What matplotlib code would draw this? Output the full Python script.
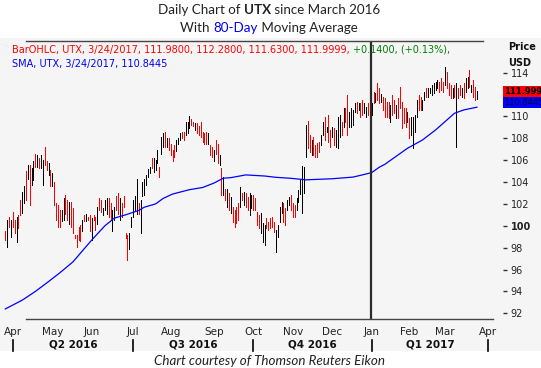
import numpy as np
import pandas as pd
import matplotlib
matplotlib.use("Agg")
import matplotlib.pyplot as plt
import matplotlib.transforms as mtransforms
from matplotlib.patches import Rectangle

W, H = 541, 368

# NYSE holidays inside the window
holidays = ["2016-05-30", "2016-07-04", "2016-09-05", "2016-11-24",
            "2016-12-26", "2017-01-02", "2017-01-16", "2017-02-20"]

# -------------------------
# daily bars (28 Mar 2016 .. 24 Mar 2017)
# -------------------------
high = [
    99.5, 100.5, 100.8, 100.5, 101.3, 100.5, 100.8, 101.0, 102.4, 103.1,
    103.6, 105.0, 105.6, 105.6, 105.3, 105.9, 106.6, 106.5, 106.2, 106.5,
    106.0, 107.2, 105.9, 105.7, 105.1, 104.8, 104.0, 102.1, 101.9, 101.4,
    101.4, 102.5, 102.8, 102.4, 102.2, 102.2, 101.6, 99.2, 99.2, 99.9,
    100.1, 100.5, 101.0, 101.1, 100.8, 101.0, 100.7, 101.0, 100.8, 101.7,
    102.5, 102.4, 101.6, 102.4, 102.5, 102.5, 102.1, 101.4, 101.7, 102.7,
    103.0, 102.5, 102.1, 102.7, 99.3, 99.2, 99.3, 100.8, 102.4, 102.7,
    104.3, 102.1, 102.4, 104.0, 104.3, 104.6, 105.2, 105.4, 106.2, 106.2,
    106.0, 106.9, 105.4, 108.15, 108.45, 108.6, 108.0, 108.0, 107.5, 106.9,
    107.4, 107.8, 108.0, 108.45, 108.6, 108.6, 109.5, 109.5, 110.0, 109.8,
    109.5, 109.4, 109.4, 109.1, 109.5, 108.6, 108.45, 108.6, 108.45, 107.4,
    107.2, 106.9, 107.8, 107.5, 106.5, 105.25, 104.5, 103.4, 103.4, 103.0,
    102.67, 101.75, 101.45, 101.75, 102.06, 103.58, 102.97, 103.12, 102.97, 102.67,
    102.97, 102.82, 102.82, 102.51, 101.29, 100.99, 101.14, 100.23, 100.07, 100.69,
    100.38, 100.69, 100.84, 100.38, 99.62, 100.07, 101.75, 102.21, 102.06, 101.6,
    102.36, 102.67, 102.82, 102.06, 101.9, 102.51, 103.27, 104.3, 105.5, 105.4,
    109.22, 109.58, 108.3, 107.84, 108.15, 107.39, 107.54, 107.69, 108.3, 109.52,
    109.98, 109.06, 110.13, 108.76, 109.06, 108.91, 108.76, 109.98, 110.13, 109.52,
    110.74, 110.74, 111.96, 110.43, 110.74, 110.59, 111.2, 111.35, 111.2, 111.2,
    111.5, 111.2, 110.89, 111.2, 110.59, 111.2, 112.26, 112.11, 113.02, 112.57,
    112.02, 111.81, 111.65, 111.35, 111.35, 111.04, 111.96, 111.5, 111.04, 111.65,
    112.72, 111.35, 110.74, 110.74, 110.43, 109.82, 109.98, 109.98, 110.13, 111.5,
    111.96, 111.81, 111.5, 112.26, 112.57, 112.57, 112.57, 112.87, 113.02, 113.18,
    113.33, 113.18, 113.48, 113.18, 114.55, 114.09, 113.02, 112.87, 112.57, 112.87,
    113.02, 112.57, 112.87, 112.57, 113.02, 113.48, 113.63, 114.24, 112.87, 113.33,
    112.72, 112.28,
]
low = [
    98.7, 98.1, 99.9, 99.0, 99.9, 99.3, 98.5, 99.8, 101.0, 101.2,
    102.1, 102.4, 104.3, 101.9, 103.7, 104.2, 105.4, 105.4, 105.3, 105.3,
    103.7, 105.6, 105.1, 104.6, 103.6, 103.6, 101.9, 100.5, 99.9, 99.9,
    100.4, 100.5, 101.1, 100.5, 100.2, 99.9, 99.3, 98.9, 98.1, 98.7,
    98.6, 99.5, 100.4, 100.4, 100.5, 99.5, 98.7, 100.5, 99.6, 100.2,
    101.4, 101.3, 101.0, 101.4, 101.1, 100.8, 100.5, 99.5, 100.5, 101.4,
    101.1, 100.5, 100.8, 101.7, 98.9, 96.9, 97.9, 99.9, 100.8, 101.4,
    101.1, 101.1, 99.3, 102.7, 102.8, 103.7, 104.5, 104.8, 105.3, 104.9,
    105.1, 105.7, 104.5, 106.6, 107.2, 107.2, 107.2, 106.9, 106.5, 105.9,
    106.3, 106.8, 107.5, 107.8, 108.0, 107.8, 108.3, 108.45, 108.9, 109.2,
    109.1, 108.8, 108.45, 108.3, 108.15, 107.7, 107.5, 107.5, 107.5, 106.5,
    106.3, 105.9, 106.6, 105.7, 105.6, 102.8, 102.8, 102.4, 101.75, 101.45,
    101.14, 100.38, 99.92, 100.23, 100.53, 101.75, 102.36, 101.9, 101.75, 101.45,
    100.99, 101.6, 101.45, 101.45, 100.07, 99.77, 99.31, 98.55, 98.25, 99.77,
    99.62, 99.77, 99.92, 99.47, 97.64, 99.01, 100.38, 101.14, 100.38, 100.07,
    101.45, 101.9, 101.45, 100.84, 100.84, 101.45, 102.21, 102.9, 101.2, 103.0,
    106.32, 107.08, 106.78, 106.47, 106.47, 106.32, 106.32, 106.78, 107.39, 108.3,
    107.84, 108.61, 107.69, 107.24, 108.15, 107.39, 107.24, 107.08, 108.15, 108.3,
    109.06, 109.52, 108.3, 109.06, 109.06, 109.22, 110.43, 110.28, 110.59, 109.98,
    110.13, 110.28, 109.98, 110.13, 109.52, 110.13, 111.2, 111.35, 111.5, 111.2,
    111.35, 110.59, 109.98, 109.98, 109.82, 109.52, 110.13, 110.28, 109.82, 109.82,
    110.74, 108.91, 109.37, 109.06, 109.52, 107.99, 108.3, 107.08, 108.61, 109.98,
    110.59, 110.59, 110.59, 111.5, 111.81, 111.81, 112.11, 111.96, 112.11, 112.41,
    112.57, 112.26, 112.41, 112.26, 112.87, 112.57, 111.96, 111.65, 111.65, 111.81,
    107.24, 111.65, 111.96, 111.81, 111.65, 112.26, 112.57, 112.72, 112.26, 111.81,
    111.5, 111.63,
]
# r = down day (red), k = up day (black)
bar_col = ("rkrkrrkrrk" "krkrkkrkrk" "krrkrkrrrr" "kkrrkrrrrr"
           "rkrkrrkrrk" "rrkkkrrkkr" "rkrrrrkkkk" "krkkkkkkrk"
           "kkrkkrkrrr" "rkkkrrkkkr" "rkrrrrrrkr" "rkrrkrkrkr"
           "krrrrkrkrr" "kkrrrrkkkr" "rrrrkkkkrr" "kkrrrkkkkk"
           "krrkrrrrkk" "rkrrkrkkkr" "krrkkkkrkr" "rkkrrkrkrr"
           "krrrrkrrkr" "rrrrkrkkkk" "rrkkrkkkkk" "krrrkrrrkr"
           "krrkrkkrkr" "rk")

# 80-day moving average, read at a few bars
sma_bar = [0, 9, 16, 23, 29, 36, 40, 46, 53, 58, 64, 71, 74, 80, 84, 89, 98,
           105, 111, 116, 120, 128, 138, 144, 152, 160, 174, 185, 190, 195,
           199, 202, 214, 222, 229, 235, 239, 244, 251]
sma_val = [92.4, 93.2, 94.0, 94.9, 95.7, 96.7, 97.5, 98.7, 100.0, 100.7, 101.0,
           101.4, 101.7, 102.0, 102.5, 102.9, 103.3, 103.5, 103.9, 104.35, 104.4,
           104.65, 104.55, 104.43, 104.34, 104.2, 104.3, 104.45, 104.65, 104.86,
           105.35, 105.62, 107.08, 107.84, 108.76, 109.67, 110.28, 110.59, 110.84]

ohlc_text = "BarOHLC, UTX, 3/24/2017, 111.9800, 112.2800, 111.6300, 111.9999, "
chg_text = "+0.1400, (+0.13%),"
sma_text = "SMA, UTX, 3/24/2017, 110.8445"
last_close = "111.9999"
last_sma = "110.8445"

y_ticks = list(range(92, 115, 2))
quarters = ["Q2 2016", "Q3 2016", "Q4 2016", "Q1 2017"]

# -------------------------
# trading-day axis
# -------------------------
days = pd.bdate_range("2016-03-28", "2017-04-28", freq="C", holidays=holidays)
x = np.arange(len(high))
months = pd.date_range("2016-04-01", "2017-04-01", freq="MS")
m_idx = [int(np.searchsorted(days, m)) for m in months]
m_lab = [m.strftime("%b") for m in months]
q_idx = [i for i, m in zip(m_idx, months) if m.month in (1, 4, 7, 10)]
jan_idx = m_idx[list(months.year).index(2017)]

fig = plt.figure(figsize=(W / 100, H / 100), dpi=100)
fig.patches.append(Rectangle((0, (H - 351) / H), 1, (351 - 38) / H, transform=fig.transFigure,
                             facecolor="#f5f5f5", edgecolor="none", zorder=-10))

ax = fig.add_axes([0, (H - 319) / H, 503 / W, 278 / H])
ax.set_facecolor("none")
cols = ["#ff0000" if c == "r" else "#000000" for c in bar_col]
ax.vlines(x, low, high, colors=cols, lw=0.55, antialiased=False)
ax.plot(sma_bar, sma_val, color="#0000ff", lw=0.9)
ax.axvline(jan_idx - 0.3, color="#2a2a2a", lw=1.6)

ax.set_xlim(-5.3 / 1.879, (503 - 5.3) / 1.879)
ax.set_ylim(91.48, 116.89)
for s in ax.spines.values():
    s.set_visible(False)

# 112 sits under the last-price box, as in the source
ax.yaxis.tick_right()
ax.set_yticks(y_ticks, ["" if t == 112 else str(t) for t in y_ticks])
ax.tick_params(axis="y", length=3, width=1, color="#333333", pad=2.5,
               labelsize=7, labelcolor="#222222")
for lbl in ax.get_yticklabels():
    if lbl.get_text() == "100":
        lbl.set_fontweight("bold")
ax.set_xticks(m_idx, m_lab)
ax.tick_params(axis="x", length=0, pad=5.5, labelsize=7.5, labelcolor="#222222")

# axis lines top / bottom
ax.plot([0.052, 0.98], [0, 0], transform=ax.transAxes, color="#444444", lw=1, clip_on=False)
ax.plot([0.052, 0.96], [1, 1], transform=ax.transAxes, color="#444444", lw=1, clip_on=False)

# quarter row
bt = mtransforms.blended_transform_factory(ax.transData, ax.transAxes)
for qi in q_idx:
    ax.plot([qi, qi], [-0.0755, -0.115], transform=bt, color="black", lw=1.2, clip_on=False)
for k, q in enumerate(quarters):
    ax.text((q_idx[k] + q_idx[k + 1]) / 2, -0.09, q, transform=bt, ha="center", va="center",
            fontsize=7.5, fontweight="bold", color="#111111")

# last-value boxes on the price scale
fig.patches.append(Rectangle((503 / W, (H - 97) / H), (W - 503) / W, 10.5 / H,
                             transform=fig.transFigure, facecolor="#ff0000", edgecolor="none", zorder=5))
fig.patches.append(Rectangle((503 / W, (H - 107.5) / H), (W - 503) / W, 10.5 / H,
                             transform=fig.transFigure, facecolor="#0000ff", edgecolor="none", zorder=5))
fig.text(504 / W, 1 - 91.6 / H, last_close, fontsize=6, fontweight="bold", color="black",
         va="center", zorder=6)
fig.text(504 / W, 1 - 102.6 / H, last_sma, fontsize=6, color="#00002a", va="center", zorder=6)
fig.text(508 / W, 1 - 47.5 / H, "Price", fontsize=7, fontweight="bold", color="#111111", va="center")
fig.text(508 / W, 1 - 62.5 / H, "USD", fontsize=7, fontweight="bold", color="#111111", va="center")

renderer = fig.canvas.get_renderer()


def piece_width(s, **kw):
    t = fig.text(0, 0, s + "|", **kw)
    w1 = t.get_window_extent(renderer).width
    t.set_text("|")
    w2 = t.get_window_extent(renderer).width
    t.remove()
    return w1 - w2


def put_pieces(px, py, pieces, ha="left", **kw):
    widths = [piece_width(s, color=c, fontweight=wt, **kw) for s, c, wt in pieces]
    x0 = px - sum(widths) / 2 if ha == "center" else px
    for (s, c, wt), w in zip(pieces, widths):
        fig.text(x0 / W, 1 - py / H, s, color=c, fontweight=wt, va="center", ha="left", **kw)
        x0 += w


title_kw = dict(fontsize=9.6, family="Lato")
put_pieces(269, 10.5, [("Daily Chart of ", "#222222", "normal"), ("UTX", "#222222", "bold"),
                       (" since March 2016", "#222222", "normal")], ha="center", **title_kw)
put_pieces(269, 27.7, [("With ", "#222222", "normal"), ("80-Day", "#0000ee", "normal"),
                       (" Moving Average", "#222222", "normal")], ha="center", **title_kw)

leg_kw = dict(fontsize=7)
put_pieces(12, 50, [(ohlc_text, "#ff0000", "normal"), (chg_text, "#008000", "normal")], **leg_kw)
put_pieces(12, 64, [(sma_text, "#0000ff", "normal")], **leg_kw)

fig.text(269 / W, 1 - 361 / H, "Chart courtesy of Thomson Reuters Eikon", ha="center", va="center",
         fontsize=9.6, family="Lato", style="italic", color="#222222")

fig.savefig("out.png", dpi=100)
